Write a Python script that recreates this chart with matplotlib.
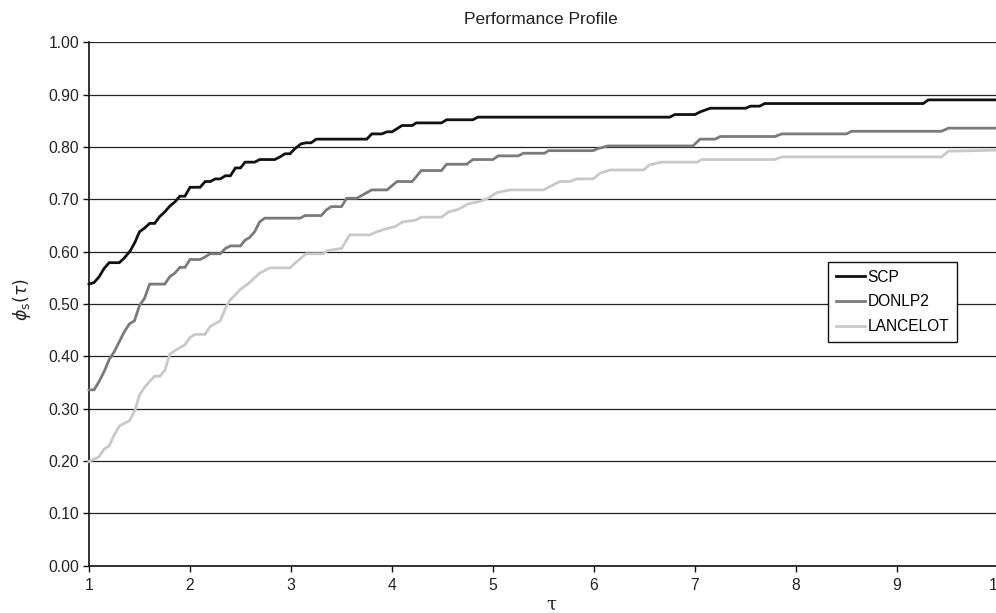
import numpy as np
import matplotlib
matplotlib.use("Agg")
from matplotlib import pyplot as plt

plt.rcParams['font.family'] = ['Liberation Sans', 'DejaVu Sans']

# Performance profile curves (tau, phi_s(tau))
scp_tau = [1.00, 1.05, 1.10, 1.15, 1.20, 1.30, 1.35, 1.41, 1.455, 1.50, 1.55, 1.60, 1.65,
           1.70, 1.75, 1.80, 1.85, 1.90, 1.95, 2.00, 2.10, 2.15, 2.20, 2.25, 2.30, 2.35,
           2.40, 2.45, 2.50, 2.545, 2.64, 2.69, 2.84, 2.89, 2.94, 2.99, 3.04, 3.10, 3.15,
           3.20, 3.25, 3.75, 3.80, 3.90, 3.95, 4.00, 4.10, 4.20, 4.24, 4.49, 4.54, 4.80,
           4.85, 6.75, 6.80, 7.00, 7.05, 7.15, 7.50, 7.55, 7.64, 7.69, 9.26, 9.31, 10.0]
scp_phi = [0.538, 0.541, 0.552, 0.568, 0.579, 0.579, 0.588, 0.602, 0.618, 0.638, 0.645,
           0.654, 0.654, 0.667, 0.676, 0.687, 0.695, 0.706, 0.706, 0.723, 0.723, 0.734,
           0.734, 0.739, 0.739, 0.745, 0.745, 0.760, 0.760, 0.771, 0.771, 0.776, 0.776,
           0.781, 0.787, 0.787, 0.797, 0.806, 0.808, 0.808, 0.815, 0.815, 0.825, 0.825,
           0.829, 0.829, 0.841, 0.841, 0.846, 0.846, 0.852, 0.852, 0.857, 0.857, 0.862,
           0.862, 0.867, 0.874, 0.874, 0.878, 0.878, 0.883, 0.883, 0.890, 0.890]

donlp2_tau = [1.00, 1.05, 1.10, 1.15, 1.20, 1.25, 1.30, 1.35, 1.40, 1.45, 1.50, 1.55, 1.60,
              1.75, 1.80, 1.85, 1.90, 1.95, 2.00, 2.10, 2.15, 2.20, 2.30, 2.35, 2.40, 2.50,
              2.545, 2.59, 2.64, 2.69, 2.74, 3.09, 3.14, 3.30, 3.35, 3.40, 3.50, 3.55, 3.65,
              3.80, 3.95, 4.05, 4.20, 4.29, 4.49, 4.54, 4.74, 4.80, 5.00, 5.05, 5.25, 5.30,
              5.51, 5.55, 5.99, 6.04, 6.14, 6.98, 7.05, 7.20, 7.25, 7.79, 7.86, 8.50, 8.55,
              9.44, 9.51, 10.0]
donlp2_phi = [0.336, 0.336, 0.352, 0.371, 0.394, 0.409, 0.428, 0.447, 0.462, 0.468, 0.497,
              0.511, 0.538, 0.538, 0.552, 0.559, 0.570, 0.570, 0.585, 0.585, 0.590, 0.596,
              0.596, 0.606, 0.611, 0.611, 0.622, 0.627, 0.638, 0.657, 0.664, 0.664, 0.669,
              0.669, 0.680, 0.686, 0.686, 0.702, 0.702, 0.718, 0.718, 0.734, 0.734, 0.755,
              0.755, 0.767, 0.767, 0.776, 0.776, 0.783, 0.783, 0.788, 0.788, 0.793, 0.793,
              0.797, 0.802, 0.802, 0.815, 0.815, 0.820, 0.820, 0.825, 0.825, 0.830, 0.830,
              0.836, 0.836]

lancelot_tau = [1.00, 1.10, 1.15, 1.20, 1.25, 1.30, 1.40, 1.455, 1.50, 1.55, 1.60, 1.65,
                1.70, 1.75, 1.80, 1.85, 1.95, 2.00, 2.05, 2.15, 2.20, 2.30, 2.36, 2.40,
                2.50, 2.59, 2.69, 2.79, 2.99, 3.04, 3.15, 3.32, 3.36, 3.50, 3.58, 3.78,
                3.85, 3.93, 4.03, 4.11, 4.23, 4.29, 4.49, 4.56, 4.66, 4.75, 4.87, 4.94,
                5.04, 5.17, 5.50, 5.66, 5.76, 5.83, 5.99, 6.06, 6.16, 6.49, 6.55, 6.67,
                7.02, 7.07, 7.79, 7.86, 9.44, 9.51, 10.0]
lancelot_phi = [0.199, 0.208, 0.223, 0.229, 0.250, 0.267, 0.277, 0.297, 0.326, 0.341, 0.352,
                0.362, 0.362, 0.373, 0.404, 0.411, 0.422, 0.436, 0.442, 0.442, 0.457, 0.468,
                0.496, 0.508, 0.528, 0.541, 0.559, 0.569, 0.569, 0.578, 0.596, 0.596, 0.602,
                0.606, 0.632, 0.632, 0.638, 0.643, 0.648, 0.657, 0.660, 0.666, 0.666, 0.676,
                0.681, 0.691, 0.696, 0.701, 0.713, 0.718, 0.718, 0.734, 0.734, 0.739, 0.739,
                0.750, 0.756, 0.756, 0.766, 0.771, 0.771, 0.776, 0.776, 0.781, 0.781, 0.792,
                0.794]

series = [("SCP", scp_tau, scp_phi, "#111111"),
          ("DONLP2", donlp2_tau, donlp2_phi, "#7b7b7b"),
          ("LANCELOT", lancelot_tau, lancelot_phi, "#c9c9c9")]

x_ticks = [1, 2, 3, 4, 5, 6, 7, 8, 9, 10]
y_ticks = np.round(np.arange(0, 1.01, 0.1), 2)

fig = plt.figure(figsize=(9.96, 6.13), dpi=100)
ax = fig.add_axes([89 / 996, 1 - 565.7 / 613, 909 / 996, 523.4 / 613])

for label, tau, phi, colour in series:
    ax.plot(tau, phi, color=colour, lw=2.0, label=label, zorder=3,
            solid_joinstyle="miter", clip_on=False)

ax.set_xlim(1, 10)
ax.set_ylim(0, 1)
ax.set_xticks(x_ticks)
ax.set_yticks(y_ticks)
ax.set_yticklabels(["%.2f" % v for v in y_ticks])
ax.yaxis.grid(True, color="#222222", lw=0.9)
ax.set_axisbelow(True)

for side in ["top", "right"]:
    ax.spines[side].set_visible(False)
for side in ["left", "bottom"]:
    ax.spines[side].set_linewidth(1.2)
    ax.spines[side].set_color("#111111")

ax.tick_params(axis="both", direction="out", length=4, width=1, colors="#111111",
               labelsize=11.3, labelcolor="#222222")
ax.tick_params(axis="x", pad=5)
ax.tick_params(axis="y", pad=3)

fig.text(541 / 996, 1 - 20 / 613, "Performance Profile", ha="center", va="center",
         fontsize=12.5, color="#222222")
fig.text(551 / 996, 1 - 605 / 613, "τ", ha="center", va="center", fontsize=13,
         family=["DejaVu Serif"], color="#222222")
fig.text(22 / 996, 1 - 300 / 613, r"$\phi_{\mathrm{s}}(\tau)$", ha="center", va="center",
         rotation=90, fontsize=12.5, color="#222222")

leg = ax.legend(loc="upper left", bbox_to_anchor=(828 / 996, 1 - 262 / 613),
                bbox_transform=fig.transFigure, borderaxespad=0, fancybox=False,
                framealpha=1, edgecolor="#111111", fontsize=11.2, handlelength=1.9,
                handletextpad=0.15, labelspacing=0.62, borderpad=0.5)
leg.get_frame().set_linewidth(1.0)
leg.set_zorder(5)

fig.savefig("out.png", dpi=100)
